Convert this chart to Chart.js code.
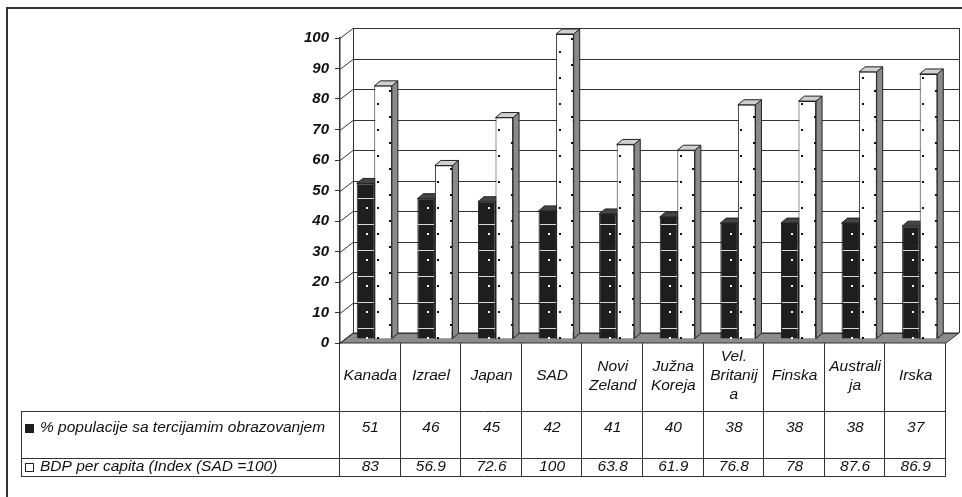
<!DOCTYPE html>
<html>
<head>
<meta charset="utf-8">
<script src="https://cdn.jsdelivr.net/npm/chart.js@4.4.1/dist/chart.umd.min.js"></script>
<style>
  html, body { margin: 0; padding: 0; background: #fff; }
  canvas { display: block; }
</style>
</head>
<body>
<canvas id="myChart" width="962" height="497"></canvas>
<script>
const zemlje = [['Kanada'], ['Izrael'], ['Japan'], ['SAD'], ['Novi', 'Zeland'], ['Južna', 'Koreja'],
                ['Vel.', 'Britanij', 'a'], ['Finska'], ['Australi', 'ja'], ['Irska']];
const tercijarno = [51, 46, 45, 42, 41, 40, 38, 38, 38, 37];
const bdp = [83, 56.9, 72.6, 100, 63.8, 61.9, 76.8, 78, 87.6, 86.9];
const serije = ['% populacije sa tercijamim obrazovanjem', 'BDP per capita (Index (SAD =100)'];
const yMin = 0, yMax = 100, yKorak = 10;

const FONT = '"Liberation Sans", Arial, sans-serif';
const ZID = { x: 13, y: -10 };    // dubina zadnjeg zida
const POMAK = { x: 4, y: -4 };    // stupci stoje na pola dubine
const STRANA = { x: 6, y: -5 };   // dubina jednog stupca

function poligon(ctx, tocke, boja) {
  ctx.beginPath();
  ctx.moveTo(tocke[0][0], tocke[0][1]);
  for (let i = 1; i < tocke.length; i++) ctx.lineTo(tocke[i][0], tocke[i][1]);
  ctx.closePath();
  ctx.fillStyle = boja;
  ctx.fill();
  ctx.stroke();
}

const okvir3d = {
  id: 'okvir3d',
  beforeDatasetsDraw(chart) {
    const { ctx, chartArea: a, scales: { y } } = chart;
    const y0 = y.getPixelForValue(yMin);
    const yTop = y.getPixelForValue(yMax);
    ctx.save();
    ctx.strokeStyle = '#333';
    ctx.lineWidth = 1;

    // pod
    poligon(ctx, [[a.left, y0], [a.left + ZID.x, y0 + ZID.y], [a.right + ZID.x, y0 + ZID.y], [a.right, y0]], '#8c8c8c');

    // linije mreze na lijevom i zadnjem zidu
    y.ticks.forEach(t => {
      const py = Math.round(y.getPixelForValue(t.value)) + 0.5;
      ctx.beginPath();
      ctx.moveTo(a.left, py);
      ctx.lineTo(a.left + ZID.x, py + ZID.y);
      ctx.lineTo(a.right + ZID.x, py + ZID.y);
      ctx.stroke();
    });
    ctx.beginPath();
    ctx.moveTo(Math.round(a.left + ZID.x) + 0.5, yTop + ZID.y);
    ctx.lineTo(Math.round(a.left + ZID.x) + 0.5, y0 + ZID.y);
    ctx.moveTo(Math.round(a.right + ZID.x) + 0.5, yTop + ZID.y);
    ctx.lineTo(Math.round(a.right + ZID.x) + 0.5, y0 + ZID.y);
    ctx.stroke();

    // bocne i gornje plohe stupaca
    ctx.translate(POMAK.x, POMAK.y);
    ctx.strokeStyle = '#222';
    chart.data.datasets.forEach((ds, i) => {
      chart.getDatasetMeta(i).data.forEach(bar => {
        const xl = bar.x - bar.width / 2, xr = bar.x + bar.width / 2;
        const top = bar.y, base = bar.base;
        poligon(ctx, [[xr, top], [xr + STRANA.x, top + STRANA.y], [xr + STRANA.x, base + STRANA.y], [xr, base]],
                i === 0 ? '#111' : '#8a8a8a');
        poligon(ctx, [[xl, top], [xl + STRANA.x, top + STRANA.y], [xr + STRANA.x, top + STRANA.y], [xr, top]],
                i === 0 ? '#444' : '#cfcfcf');
      });
    });
  },
  afterDatasetsDraw(chart) {
    const { ctx } = chart;
    // uzorak na prednjim plohama
    chart.getDatasetMeta(0).data.forEach(bar => {
      const xl = bar.x - bar.width / 2;
      ctx.fillStyle = '#fff';
      for (let k = 0; bar.base - 26 * k > bar.y + 3; k++) {
        ctx.fillRect(Math.round(xl + bar.width * 0.55), Math.round(bar.base - 26 * k) - 2, 2, 2);
        const ly = bar.base - 11 - 26 * k;
        if (ly > bar.y + 2) {
          ctx.fillStyle = '#d8d8d8';
          ctx.fillRect(Math.round(xl) + 1, Math.round(ly), Math.round(bar.width) - 2, 1);
          ctx.fillStyle = '#fff';
        }
      }
    });
    chart.getDatasetMeta(1).data.forEach(bar => {
      const xl = bar.x - bar.width / 2, xr = bar.x + bar.width / 2;
      ctx.fillStyle = '#111';
      for (let k = 0; bar.base - 13 * k > bar.y + 3; k++) {
        const px = k % 2 === 0 ? xl + 2.5 : xr - 2.5;
        ctx.fillRect(Math.round(px), Math.round(bar.base - 13 * k) - 2, 2, 2);
      }
    });
    ctx.restore();
  },
  afterDraw(chart) {
    const { ctx, scales: { x, y } } = chart;
    const y0 = Math.round(y.getPixelForValue(yMin));
    const sirina = x.getPixelForValue(1) - x.getPixelForValue(0);
    const lijevo = x.getPixelForValue(0) - sirina / 2;
    const desno = lijevo + sirina * zemlje.length;
    const legLijevo = 21, red1 = 411, red2 = 458, dno = 476;

    ctx.save();
    ctx.strokeStyle = '#333';
    ctx.lineWidth = 1;
    ctx.beginPath();
    [red1, red2, dno].forEach(ry => {
      ctx.moveTo(legLijevo, ry + 0.5);
      ctx.lineTo(desno, ry + 0.5);
    });
    ctx.moveTo(legLijevo + 0.5, red1);
    ctx.lineTo(legLijevo + 0.5, dno + 1);
    for (let i = 0; i <= zemlje.length; i++) {
      const cx = Math.round(lijevo + i * sirina) - 0.5;
      ctx.moveTo(cx, y0);
      ctx.lineTo(cx, dno + 1);
    }
    ctx.stroke();

    ctx.fillStyle = '#111';
    ctx.font = 'italic 15.5px ' + FONT;
    ctx.textAlign = 'center';
    ctx.textBaseline = 'middle';
    zemlje.forEach((z, i) => {
      const cx = x.getPixelForValue(i);
      const start = 376 - (z.length - 1) * 19 / 2;
      z.forEach((red, j) => ctx.fillText(red, cx, start + j * 19));
      ctx.fillText(String(tercijarno[i]), cx, 428);
      ctx.fillText(String(bdp[i]), cx, 467);
    });

    // legenda u tablici
    ctx.textAlign = 'left';
    ctx.fillText(serije[0], 40, 428);
    ctx.fillText(serije[1], 40, 467);
    ctx.fillStyle = '#1e1e1e';
    ctx.fillRect(25, 424, 9, 9);
    ctx.fillStyle = '#fff';
    ctx.strokeStyle = '#222';
    ctx.fillRect(25, 463, 8, 8);
    ctx.strokeRect(25.5, 463.5, 8, 8);

    // vanjski okvir
    ctx.strokeStyle = '#333';
    ctx.lineWidth = 2;
    ctx.strokeRect(7, 8, 1000, 1000);
    ctx.restore();
  }
};

const ctx = document.getElementById('myChart').getContext('2d');
const chart = new Chart(ctx, {
  type: 'bar',
  data: {
    labels: zemlje,
    datasets: [{
      label: serije[0],
      data: tercijarno,
      backgroundColor: '#1e1e1e',
      borderColor: '#222',
      borderWidth: 1,
      clip: false
    }, {
      label: serije[1],
      data: bdp,
      backgroundColor: '#ffffff',
      borderColor: '#222',
      borderWidth: 1,
      clip: false
    }]
  },
  options: {
    responsive: false,
    animation: false,
    layout: { padding: { left: 290, right: 16, top: 38, bottom: 154 } },
    datasets: { bar: { categoryPercentage: 0.58, barPercentage: 1 } },
    plugins: { legend: { display: false }, tooltip: { enabled: false } },
    scales: {
      x: { display: false },
      y: {
        min: yMin,
        max: yMax,
        afterFit: s => { s.width = 50; },
        ticks: {
          stepSize: yKorak,
          padding: 6,
          color: '#111',
          font: { family: FONT, size: 15, style: 'italic', weight: 'bold' }
        },
        grid: { drawOnChartArea: false, tickLength: 5, color: '#333' },
        border: { color: '#333', width: 1.5 }
      }
    }
  },
  plugins: [okvir3d]
});
</script>
</body>
</html>
